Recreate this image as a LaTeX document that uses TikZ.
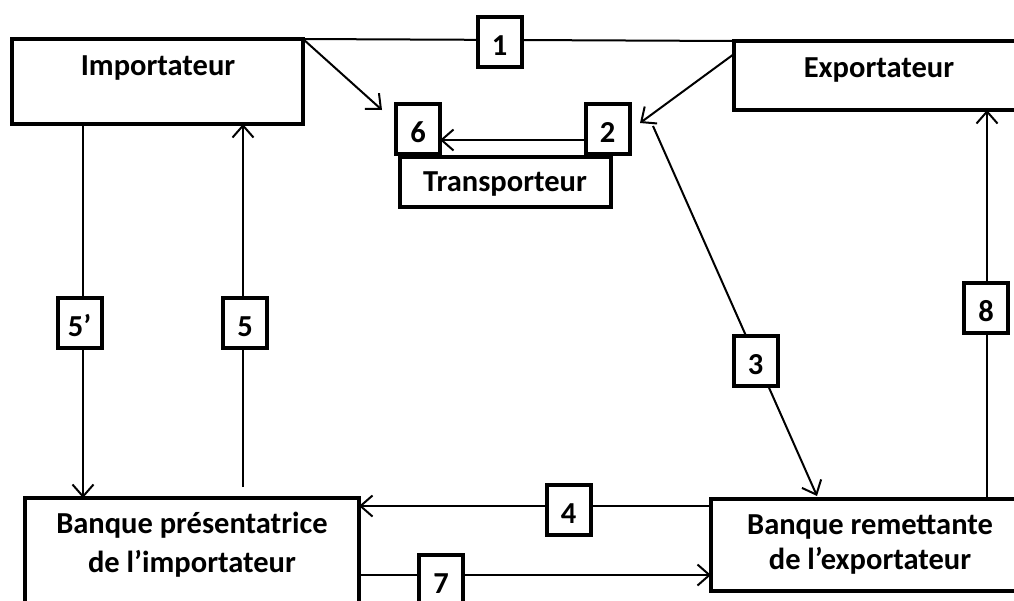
\documentclass[tikz,border=0pt]{standalone}
\usepackage{fontspec}
\setmainfont{Carlito}
\usetikzlibrary{arrows.meta,backgrounds}
\begin{document}
\begin{tikzpicture}[x=1pt,y=-1pt,
  mainbox/.style={draw,line width=4pt,fill=white,inner sep=0pt,outer sep=0pt},
  numbox/.style={draw,line width=4pt,fill=white,inner sep=0pt,outer sep=0pt,
    minimum width=44pt,minimum height=50pt,text height=27pt,text depth=0pt,
    font=\fontsize{30.5}{34}\selectfont\bfseries},
  lbl/.style={inner sep=0pt,align=center,font=\fontsize{30.5}{38}\selectfont\bfseries},
  conn/.style={line width=2pt},
  arr/.style={-{Straight Barb[length=12pt,width=21pt]}}]
\useasboundingbox (0,0) rectangle (1014,600);
\clip (0,0) rectangle (1014,600);
% main boxes
\node[mainbox,minimum width=291pt,minimum height=85pt] (imp) at (157.5,81.5) {};
\node[mainbox,minimum width=304pt,minimum height=69pt] (exp) at (886,75.5) {};
\node[mainbox,minimum width=211pt,minimum height=50pt] (tra) at (505.5,182) {};
\node[mainbox,minimum width=334pt,minimum height=120pt] (bpr) at (192,558) {};
\node[mainbox,minimum width=327pt,minimum height=92pt] (bre) at (874.5,545) {};
% labels
\node[lbl] (impT) at (158,68) {Importateur};
\node[lbl] (expT) at (879,70) {Exportateur};
\node[lbl] (traT) at (505,184) {Transporteur};
\node[lbl,font=\fontsize{30.5}{39}\selectfont\bfseries] (bprT) at (192,545) {Banque présentatrice\\de l’importateur};
\node[lbl,font=\fontsize{30.5}{35}\selectfont\bfseries] (breT) at (870,544) {Banque remettante\\de l’exportateur};
% number boxes
\node[numbox] (n1) at (499.5,41.5) {1};
\node[numbox] (n2) at (607.5,129) {2};
\node[numbox] (n6) at (418,129) {6};
\node[numbox] (n3) at (755.5,361) {3};
\node[numbox] (n4) at (568.5,510) {4};
\node[numbox] (n5p) at (79.5,323) {5’};
\node[numbox] (n5) at (245,323) {5};
\node[numbox] (n7) at (441,580) {7};
\node[numbox] (n8) at (986,308) {8};
% free ends
\coordinate (a6) at (382,110);
\coordinate (a2) at (640,123);
\coordinate (s3) at (653,126);
\coordinate (e3) at (817,496);
\coordinate (s5) at (243,487);
\begin{pgfonlayer}{background}
\draw[conn] (imp.north east) -- (exp.north west);
\draw[conn,arr] (imp.north east) -- (a6);
\draw[conn,arr] ([yshift=-13pt]exp.north west) -- (a2);
\draw[conn,arr] (n2.west |- 0,140) -- (n6.east |- 0,140);
\draw[conn,arr] (s3) -- (e3);
\draw[conn,arr] (bre.west |- 0,506) -- (bpr.east |- 0,506);
\draw[conn,arr] (bpr.east |- 0,575) -- (bre.west |- 0,575);
\draw[conn,arr] (imp.south -| 83,0) -- (bpr.north -| 83,0);
\draw[conn,arr] (s5) -- (imp.south -| s5);
\draw[conn,arr] (bre.north -| 987,0) -- (exp.south -| 987,0);
\end{pgfonlayer}
\end{tikzpicture}
\end{document}
